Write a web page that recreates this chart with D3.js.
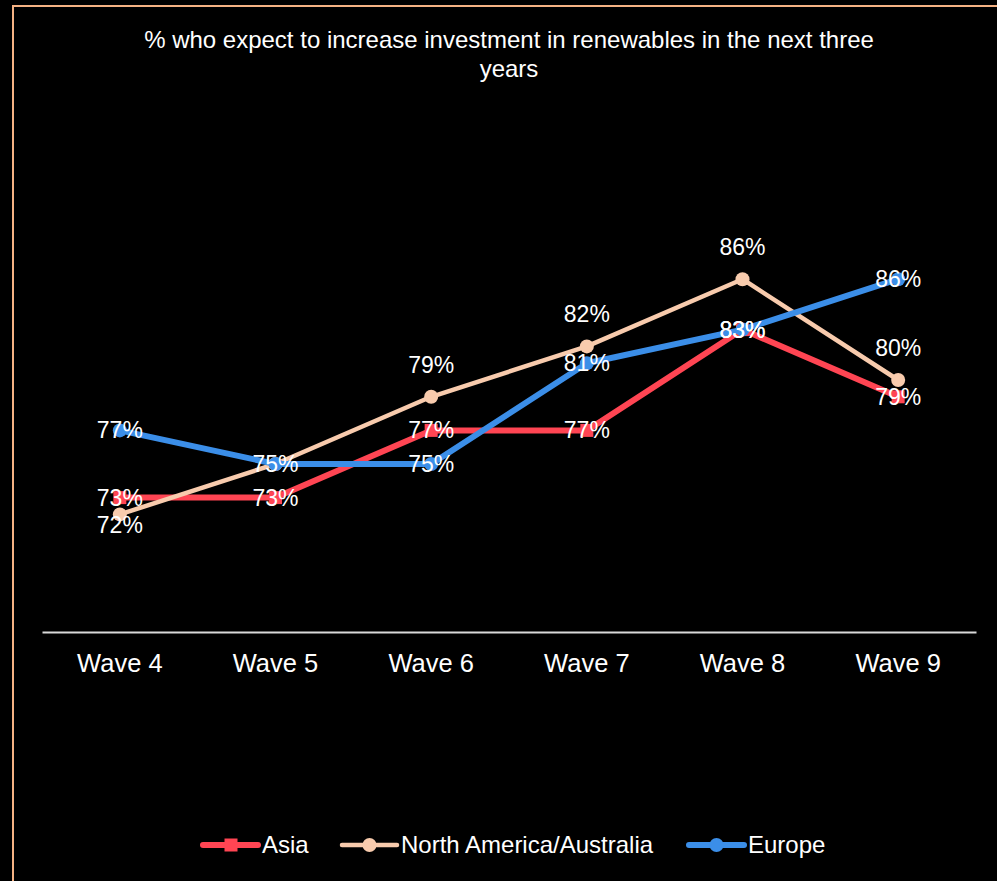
<!DOCTYPE html>
<html lang="en">
<head>
    <meta charset="UTF-8">
    <title>Renewables investment</title>
    <script src="https://cdn.jsdelivr.net/npm/d3@7"></script>
    <style>
        body { margin: 0; background: #000; }
        text { font-family: "Liberation Sans", Arial, sans-serif; fill: #fff; }
    </style>
</head>
<body>
    <script>
        //data
        var waves = ['Wave 4', 'Wave 5', 'Wave 6', 'Wave 7', 'Wave 8', 'Wave 9'];
        var asia = [73, 73, 77, 77, 83, 79];
        var northAmerica = [72, 75, 79, 82, 86, 80];
        var europe = [77, 75, 75, 81, 83, 86];

        var w = 997;
        var h = 881;

        var series = [
            { name: 'Asia', values: asia, color: '#ff4553', marker: 'square', width: 6 },
            { name: 'North America/Australia', values: northAmerica, color: '#f8cbad', marker: 'circle', width: 4.5 },
            { name: 'Europe', values: europe, color: '#3b8ee8', marker: 'circle', width: 6 }
        ];

        //xScale
        var xScale = d3.scaleBand()
                        .domain(waves)
                        .range([42, 976]);

        //yScale
        var yScale = d3.scaleLinear()
                        .domain([65, 90])
                        .range([632, 212]);

        //create svg
        var svg = d3.select('body')
                    .append('svg')
                    .attr('width', w)
                    .attr('height', h);

        svg.append('rect')
            .attr('width', w)
            .attr('height', h)
            .attr('fill', '#000');

        //frame
        svg.append('rect')
            .attr('x', 13)
            .attr('y', 6)
            .attr('width', 1000)
            .attr('height', 900)
            .attr('fill', 'none')
            .attr('stroke', '#f4b183')
            .attr('stroke-width', 2);

        //title
        var title = svg.append('text')
            .attr('text-anchor', 'middle')
            .attr('font-size', '24px');
        title.append('tspan').attr('x', 509).attr('y', 48)
            .text('% who expect to increase investment in renewables in the next three');
        title.append('tspan').attr('x', 509).attr('y', 77).text('years');

        //x axis
        var xAxis = svg.append('g')
            .attr('transform', 'translate(0,' + yScale(65) + ')')
            .call(d3.axisBottom(xScale).tickSize(0).tickPadding(22));
        xAxis.select('.domain').attr('stroke', '#d9d9d9').attr('stroke-width', 2);
        xAxis.selectAll('text')
            .attr('font-size', '25.5px')
            .attr('font-family', '"Liberation Sans", Arial, sans-serif')
            .attr('fill', '#fff');

        var cx = function(d, i) { return xScale(waves[i]) + xScale.bandwidth() / 2; };

        var line = d3.line()
            .x(function(d, i) { return cx(d, i); })
            .y(function(d) { return yScale(d); });

        series.forEach(function(s) {
            var g = svg.append('g');
            g.append('path')
                .datum(s.values)
                .attr('d', line)
                .attr('fill', 'none')
                .attr('stroke', s.color)
                .attr('stroke-width', s.width)
                .attr('stroke-linejoin', 'round');
            if (s.marker === 'square') {
                g.selectAll('rect')
                    .data(s.values)
                    .enter()
                    .append('rect')
                    .attr('x', function(d, i) { return cx(d, i) - 6.5; })
                    .attr('y', function(d) { return yScale(d) - 6.5; })
                    .attr('width', 13)
                    .attr('height', 13)
                    .attr('fill', s.color);
            } else {
                g.selectAll('circle')
                    .data(s.values)
                    .enter()
                    .append('circle')
                    .attr('cx', cx)
                    .attr('cy', function(d) { return yScale(d); })
                    .attr('r', 7)
                    .attr('fill', s.color);
            }
        });

        //labels (the North America label at Wave 5 is not shown in the original)
        series.forEach(function(s) {
            var isNA = s.name === 'North America/Australia';
            var pts = s.values.map(function(d, i) { return { v: d, i: i }; })
                .filter(function(p) { return !(isNA && p.i === 1); });
            svg.append('g').selectAll('text')
                .data(pts)
                .enter()
                .append('text')
                .text(function(p) { return p.v + '%'; })
                .attr('text-anchor', 'middle')
                .attr('font-size', '23px')
                .attr('x', function(p) { return cx(p.v, p.i); })
                .attr('y', function(p) {
                    var y = yScale(p.v);
                    if (isNA) {
                        return p.i === 0 ? y + 19 : y - 24;
                    }
                    return y + 8;
                });
        });

        //legend
        var legendX = [203, 342, 689];
        series.forEach(function(s, i) {
            var g = svg.append('g')
                .attr('transform', 'translate(' + legendX[i] + ',845)');
            g.append('line')
                .attr('x1', 0).attr('x2', 55)
                .attr('stroke', s.color)
                .attr('stroke-width', s.width)
                .attr('stroke-linecap', 'round');
            if (s.marker === 'square') {
                g.append('rect').attr('x', 21.5).attr('y', -6.5).attr('width', 13).attr('height', 13).attr('fill', s.color);
            } else {
                g.append('circle').attr('cx', 27.5).attr('r', 7).attr('fill', s.color);
            }
            g.append('text')
                .attr('x', 59)
                .attr('y', 8)
                .attr('font-size', '24px')
                .text(s.name);
        });
    </script>
</body>
</html>
